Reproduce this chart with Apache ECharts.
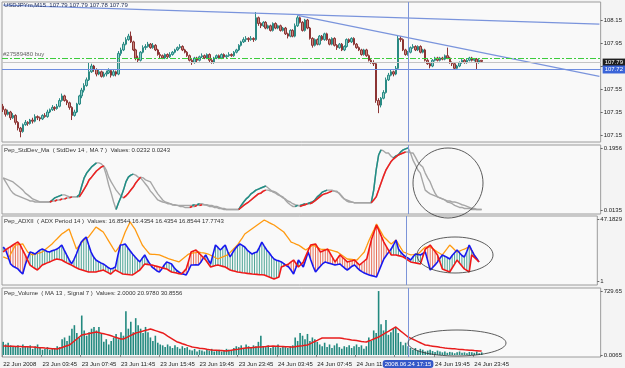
<!DOCTYPE html>
<html><head><meta charset="utf-8">
<script src="https://cdn.jsdelivr.net/npm/echarts@6/dist/echarts.min.js"></script>
<style>html,body{margin:0;padding:0;background:#f4f4f4}#c{width:625px;height:368px}</style>
</head><body><div id="c"></div><script>
// ---- price candles (USDJPYm M15) ----
const opens=[107.40,107.37,107.33,107.35,107.30,107.32,107.26,107.21,107.18,107.24,
107.26,107.25,107.28,107.27,107.31,107.30,107.29,107.32,107.31,107.35,
107.37,107.39,107.38,107.40,107.45,107.49,107.45,107.43,107.39,107.32,
107.35,107.42,107.49,107.54,107.58,107.63,107.70,107.75,107.72,107.68,
107.70,107.66,107.68,107.69,107.71,107.67,107.70,107.68,107.86,107.89,
107.94,107.98,108.01,107.96,107.89,107.82,107.80,107.87,107.91,107.92,
107.94,107.91,107.93,107.89,107.85,107.84,107.82,107.85,107.83,107.85,
107.87,107.89,107.91,107.92,107.89,107.87,107.84,107.80,107.78,107.82,
107.80,107.83,107.84,107.82,107.85,107.80,107.78,107.82,107.84,107.82,
107.85,107.83,107.84,107.85,107.84,107.87,107.89,107.93,107.96,107.98,
107.99,107.98,107.99,107.98,108.17,108.12,108.10,108.13,108.08,108.10,
108.06,108.12,108.08,108.10,108.06,108.08,108.03,108.01,108.06,108.01,
108.10,108.17,108.13,108.06,108.15,108.08,107.99,107.93,107.98,107.94,
108.01,107.98,108.03,107.98,107.94,107.99,107.93,107.91,107.94,107.89,
107.92,107.98,107.96,107.99,107.94,107.91,107.89,107.85,107.89,107.84,
107.80,107.78,107.77,107.45,107.41,107.47,107.52,107.63,107.67,107.70,
107.68,107.73,107.99,107.98,107.89,107.85,107.87,107.91,107.92,107.89,
107.92,107.87,107.89,107.80,107.77,107.75,107.80,107.82,107.80,107.82,
107.81,107.84,107.82,107.78,107.77,107.73,107.75,107.78,107.80,107.78,
107.80,107.82,107.80,107.81,107.78,107.80];
const closes=[107.37,107.33,107.35,107.30,107.32,107.26,107.21,107.18,107.24,107.26,
107.25,107.28,107.27,107.31,107.30,107.29,107.32,107.31,107.35,107.37,
107.39,107.38,107.40,107.45,107.49,107.45,107.43,107.39,107.32,107.35,
107.42,107.49,107.54,107.58,107.63,107.70,107.75,107.72,107.68,107.70,
107.66,107.68,107.69,107.71,107.67,107.70,107.68,107.86,107.89,107.94,
107.98,108.01,107.96,107.89,107.82,107.80,107.87,107.91,107.92,107.94,
107.91,107.93,107.89,107.85,107.84,107.82,107.85,107.83,107.85,107.87,
107.89,107.91,107.92,107.89,107.87,107.84,107.80,107.78,107.82,107.80,
107.83,107.84,107.82,107.85,107.80,107.78,107.82,107.84,107.82,107.85,
107.83,107.84,107.85,107.84,107.87,107.89,107.93,107.96,107.98,107.99,
107.98,107.99,107.98,108.17,108.12,108.10,108.13,108.08,108.10,108.06,
108.12,108.08,108.10,108.06,108.08,108.03,108.01,108.06,108.01,108.10,
108.17,108.13,108.06,108.15,108.08,107.99,107.93,107.98,107.94,108.01,
107.98,108.03,107.98,107.94,107.99,107.93,107.91,107.94,107.89,107.92,
107.98,107.96,107.99,107.94,107.91,107.89,107.85,107.89,107.84,107.80,
107.78,107.77,107.45,107.41,107.47,107.52,107.63,107.67,107.70,107.68,
107.73,107.99,107.98,107.89,107.85,107.87,107.91,107.92,107.89,107.92,
107.87,107.89,107.80,107.77,107.75,107.80,107.82,107.80,107.82,107.81,
107.84,107.82,107.78,107.77,107.73,107.75,107.78,107.80,107.78,107.80,
107.82,107.80,107.81,107.78,107.80,107.79];
const lows=[107.35,107.31,107.32,107.28,107.29,107.24,107.19,107.13,107.17,107.23,
107.23,107.24,107.25,107.26,107.28,107.27,107.28,107.30,107.30,107.34,
107.36,107.36,107.37,107.39,107.44,107.44,107.41,107.37,107.28,107.31,
107.34,107.41,107.47,107.52,107.57,107.62,107.69,107.70,107.66,107.67,
107.65,107.65,107.66,107.68,107.65,107.66,107.66,107.67,107.84,107.88,
107.93,107.97,107.95,107.88,107.80,107.78,107.79,107.86,107.89,107.91,
107.90,107.90,107.88,107.84,107.82,107.81,107.81,107.82,107.82,107.84,
107.86,107.88,107.90,107.88,107.86,107.83,107.79,107.76,107.77,107.78,
107.79,107.82,107.81,107.81,107.78,107.77,107.77,107.81,107.81,107.81,
107.82,107.82,107.83,107.83,107.83,107.86,107.88,107.92,107.95,107.96,
107.96,107.97,107.96,107.97,108.10,108.08,108.09,108.07,108.07,108.05,
108.05,108.07,108.07,108.05,108.05,108.02,107.99,108.00,108.00,108.00,
108.09,108.12,108.05,108.05,108.07,107.98,107.91,107.92,107.93,107.93,
107.97,107.97,107.97,107.93,107.93,107.92,107.89,107.90,107.88,107.88,
107.91,107.95,107.95,107.93,107.90,107.88,107.84,107.84,107.83,107.79,
107.77,107.75,107.43,107.34,107.39,107.46,107.51,107.62,107.66,107.66,
107.67,107.72,107.96,107.88,107.84,107.84,107.86,107.90,107.88,107.88,
107.86,107.86,107.79,107.76,107.73,107.74,107.79,107.79,107.79,107.80,
107.80,107.81,107.77,107.75,107.72,107.72,107.74,107.77,107.77,107.77,
107.79,107.79,107.79,107.72,107.77,107.78];
const highs=[107.42,107.38,107.37,107.36,107.34,107.33,107.27,107.22,107.25,107.28,
107.27,107.29,107.30,107.33,107.32,107.31,107.33,107.34,107.37,107.38,
107.41,107.40,107.42,107.47,107.51,107.50,107.46,107.44,107.40,107.37,
107.43,107.50,107.56,107.60,107.65,107.78,107.77,107.76,107.73,107.72,
107.71,107.70,107.71,107.73,107.72,107.72,107.71,107.88,107.91,107.96,
108.00,108.03,108.05,107.97,107.90,107.84,107.88,107.93,107.94,107.96,
107.95,107.95,107.94,107.90,107.87,107.85,107.86,107.86,107.87,107.88,
107.90,107.92,107.94,107.93,107.90,107.88,107.85,107.81,107.83,107.83,
107.84,107.86,107.85,107.86,107.86,107.81,107.83,107.85,107.85,107.86,
107.86,107.85,107.87,107.86,107.88,107.90,107.94,107.97,108.00,108.01,
108.00,108.01,108.00,108.22,108.18,108.13,108.14,108.14,108.11,108.11,
108.13,108.13,108.11,108.11,108.09,108.09,108.04,108.07,108.07,108.12,
108.19,108.18,108.14,108.16,108.16,108.09,108.00,107.99,107.99,108.02,
108.02,108.04,108.04,107.99,108.00,108.00,107.94,107.95,107.95,107.93,
107.99,107.99,108.00,108.00,107.95,107.92,107.90,107.90,107.90,107.85,
107.81,107.80,107.78,107.47,107.48,107.54,107.65,107.69,107.72,107.71,
107.75,108.02,108.01,107.99,107.90,107.88,107.92,107.94,107.93,107.93,
107.93,107.90,107.90,107.81,107.78,107.81,107.83,107.83,107.83,107.83,
107.85,107.91,107.83,107.79,107.78,107.76,107.79,107.81,107.81,107.81,
107.83,107.83,107.82,107.82,107.81,107.80];
// ---- Pep_StdDev_Ma ----
const stdDev=[.108,.105,.102,.099,.096,.090,.084,.078,.072,.063,
.058,.052,.046,.043,.040,.037,.037,.037,.037,.037,
.043,.049,.052,.055,.058,.058,.055,.052,.052,.052,
.052,.058,.084,.108,.122,.131,.140,.146,.152,.152,
.149,.140,.116,.087,.063,.037,.015,.035,.052,.072,
.096,.110,.116,.119,.116,.110,.108,.099,.090,.081,
.069,.061,.052,.043,.040,.037,.035,.032,.032,.029,
.029,.027,.027,.027,.027,.027,.027,.027,.029,.029,
.032,.032,.029,.027,.024,.024,.021,.021,.018,.018,
.015,.015,.015,.015,.015,.015,.015,.027,.037,.046,
.052,.061,.066,.072,.075,.078,.081,.084,.078,.072,
.066,.063,.058,.055,.052,.043,.035,.029,.024,.024,
.027,.027,.029,.032,.032,.035,.037,.043,.052,.058,
.066,.069,.072,.072,.072,.069,.066,.063,.055,.046,
.040,.037,.037,.035,.035,.035,.035,.035,.035,.035,
.035,.072,.131,.175,.190,.187,.181,.181,.172,.166,
.172,.175,.184,.190,.193,.196,.181,.160,.146,.131,
.122,.096,.072,.066,.061,.058,.055,.052,.049,.046,
.043,.037,.035,.032,.027,.024,.021,.021,.018,.018,
.018,.015,.015,.015,.015,.015];
const stdDevMa=[.108,.096,.084,.072,.063,.058,.055,.052,.049,.046,
.043,.040,.040,.037,.037,.037,.037,.037,.037,.037,
.040,.040,.043,.043,.046,.046,.049,.049,.052,.052,
.052,.052,.063,.075,.087,.102,.110,.119,.128,.134,
.140,.143,.131,.110,.096,.084,.072,.063,.055,.049,
.055,.063,.072,.081,.093,.102,.110,.108,.102,.099,
.096,.084,.072,.061,.052,.043,.037,.035,.032,.029,
.027,.027,.024,.024,.021,.021,.021,.024,.024,.027,
.027,.029,.029,.029,.027,.027,.024,.024,.021,.018,
.018,.015,.015,.015,.015,.015,.015,.021,.027,.032,
.037,.043,.049,.055,.061,.063,.069,.072,.072,.069,
.069,.066,.061,.055,.049,.046,.040,.037,.032,.029,
.027,.024,.027,.029,.032,.032,.035,.040,.046,.052,
.058,.061,.063,.066,.069,.069,.069,.061,.052,.046,
.043,.040,.037,.035,.035,.035,.035,.035,.035,.035,
.035,.043,.052,.072,.093,.113,.131,.143,.155,.163,
.169,.175,.178,.181,.184,.184,.181,.181,.169,.155,
.146,.140,.122,.108,.096,.078,.063,.052,.049,.046,
.043,.040,.040,.037,.037,.035,.032,.029,.027,.024,
.021,.018,.018,.015,.015,.015];
// ---- Pep_ADXII ----
const plusDI=[26.3,24.1,19,13.7,12,11,10.0,8,6.2,12.9,18,22.6,22,21.1,22.5,24,24.8,24,23,22.6,
23.5,24,24.8,26,27.8,24,20.4,17,13.7,17,21.1,26,30.0,32,33.8,28,22.6,19,16.6,15.5,
14.5,13.7,12.5,11,10.0,10.5,11.4,20,27.8,28,28.6,26,23.5,21.1,19,17,15.2,18,20.4,17,
14,11.4,10,8.5,7.7,10,13,15.2,14.5,13.7,11,9,7.7,6.5,6,5.5,9,12.9,12.9,13,
12.9,15,18,20.4,17,13.7,21,27.8,26,24.1,26,27.8,23,18.9,22,24.8,27,28.6,27.5,26.3,
24,22.5,21.1,22,22.6,26,30.0,27,24.1,22,19.5,17.4,16.5,16,15.2,14,12.5,11.4,9,6.2,
11,16.6,14,11.4,17,22.6,17,12,7.7,10,12,14,15.2,14.5,14,13.5,12.9,13.3,13.7,12,
10.5,9.2,10.5,12,12.9,11,9.2,8,7,6.2,5.5,5,4.5,4.0,8.5,13,17.4,20,22.5,24.8,
28,31.5,24.8,22.5,20.4,19,18,16.6,19,21.1,20.8,20.4,21.5,22.6,16,9.2,11,13,15.2,18,
20.4,19.5,18.5,17.4,20,22,24.1,22,20,18.9,23,27.8,24,20.4,18,15.2];
const minusDI=[22.6,24.1,25.5,26.5,27.8,29,30.0,27.8,24,20.4,16.5,12.9,11.5,10.3,9.2,11,12.9,13.7,14.5,15.2,
16,16.8,17.4,17,16.6,15.5,14.5,13.7,12.8,11.8,10.8,10.0,9.4,8.8,8.2,7.7,7.7,7.7,7.7,8.2,
8.7,9.2,8.2,7.2,6.2,7.7,9.2,8.2,7.2,6.2,6,5.8,5.6,5.5,6.7,8,9.2,11.5,13.7,13.4,
13.1,12.9,12.4,11.9,11.4,10.9,10.4,10.0,8.8,7.7,7.3,6.9,6.5,6.2,8,10.0,16,22.6,23.4,24.1,
22.2,20.4,18.5,16.6,14,11.4,12,12.5,12.9,12.4,11.9,11.4,10.3,9.2,8.7,8.2,7.7,7.5,7.2,7,
6.7,6.5,6.2,6,5.9,5.7,5.6,5.5,4.7,4,3.2,2.5,3.2,4.0,11.4,12.2,13,13.7,15.2,16.6,
14,11.4,13.3,15.2,19.5,23.7,27.8,28.2,28.6,25.6,22.6,23.3,24,24.8,21.6,18.4,15.2,17.8,20.4,18.7,
17,15.2,15.7,16.1,16.6,14.7,12.9,14.4,15.9,17.4,25,32.3,37.5,42.7,38.5,34.2,30.0,26.8,23.6,20.4,
20.4,20.4,19.9,19.4,18.9,17.7,16.4,15.2,14.8,14.5,14.1,13.7,19.3,24.8,26.3,27.8,25.3,22.9,20.4,15.2,
10.0,9.2,8.5,7.7,10.7,13.6,16.6,14.4,12.2,10.0,8.9,7.7,20.4,18.7,17,15.2];
const adxLine=[18.9,18.2,17.4,20.9,24.3,27.8,28.1,28.3,28.6,25.6,22.6,21.5,20.4,21,21.5,22,22.6,24.1,25.6,27.1,
28.6,30.5,32.3,34.2,36.0,37.2,38.5,39.7,34.7,29.8,24.8,27,29.2,31.5,32.6,33.8,36.3,38.7,41.2,40,
38.7,37.5,34.5,31.5,28.5,25.5,22.6,25.2,27.8,32.6,37.5,41.2,45.0,42.3,39.7,35.7,31.7,27.8,25.5,23.3,
21.1,20.9,20.8,20.6,20.4,19.7,18.9,18.2,17.4,16.9,16.3,15.8,15.2,16.7,18.2,19.6,21.1,21.5,21.9,22.2,
22.6,22.2,21.9,21.5,21.1,20.2,19.3,18.3,17.4,18.2,18.9,19.7,20.4,22.3,24.1,26,27.8,30.5,33.2,36.0,
37.3,38.6,39.9,41.2,42.5,43.8,45.1,46.4,45.5,44.5,43.6,42.7,41.4,40.1,38.8,37.5,35,32.5,30.0,29.3,
28.5,27.8,26.6,25.3,24.1,25.3,26.6,27.8,26.8,25.8,24.8,24.6,24.5,24.3,24.1,23.6,23.1,22.6,21.3,20,
18.7,17.4,17.2,17,16.8,16.6,18.6,20.6,22.6,27,31.5,35.5,39.4,43.4,40.2,37,33.8,32.1,30.3,28.6,
30,31.5,28.5,25.5,22.6,21.9,21.1,20.4,20.6,20.9,21.1,22.8,24.6,26.3,26.3,26.3,25.1,23.8,22.6,21.5,
20.4,22.9,25.3,27.8,26.1,24.3,22.6,23.3,24.1,24.8,25.6,26.3,23.4,20.4,17.8,15.2];
// ---- Pep_Volume ----
const volume=[150,120,140,110,90,100,110,80,120,100,90,110,70,100,120,
80,60,70,90,60,80,70,100,90,180,200,160,220,300,340,250,200,450,280,
220,260,300,320,280,320,250,150,180,120,160,200,240,180,260,220,500,
300,380,260,420,340,300,250,320,260,200,160,220,140,120,
110,90,120,100,80,110,90,70,100,80,90,
60,50,70,40,60,50,40,60,50,70,40,50,60,40,50,70,60,50,
80,100,90,110,80,120,100,90,110,100,150,220,
100,90,110,80,100,90,120,80,100,90,80,100,110,
200,160,250,220,180,240,160,200,180,
150,120,100,140,90,120,80,110,130,90,70,100,
90,110,80,100,120,90,110,70,100,200,160,280,250,729,350,280,400,
230,260,300,320,250,150,110,140,100,80,
60,80,50,70,60,40,50,60,45,35,50,40,
30,40,25,35,30,20,30,40,25,30,20,35,30,25,40,20,30];
const volumeMa=[103,102,101,100,99,98,97,96,95,94,93,92,91,89,86,84,82,79,77,75,
72,70,68,77,86,96,105,114,137,160,182,205,228,234,239,245,251,256,262,255,
248,242,235,228,219,209,200,191,182,182,196,210,223,237,251,258,266,273,281,288,
296,287,278,269,260,251,234,216,199,182,165,148,139,129,120,110,101,91,87,83,
78,74,70,65,61,57,55,53,51,50,48,46,50,55,59,63,67,72,76,80,
82,84,86,88,90,92,94,96,99,101,103,101,100,98,97,95,94,92,91,95,
99,103,106,110,114,127,141,154,167,181,194,194,194,194,194,194,194,194,190,185,
181,177,172,168,164,160,155,151,148,159,170,182,194,205,221,237,254,270,287,303,
319,296,273,251,228,205,192,179,166,153,140,127,114,110,105,101,97,93,88,84,
80,77,75,72,70,67,64,62,59,57,55,53,50,48,46,45];
// ---- axes ----
const timeLabels=['22 Jun 2008','23 Jun 03:45','23 Jun 07:45','23 Jun 11:45','23 Jun 15:45','23 Jun 19:45','23 Jun 23:45','24 Jun 03:45','24 Jun 07:45','24 Jun 11:45','24 Jun 15:45','24 Jun 19:45','24 Jun 23:45'];
const priceTicks=[107.15,107.35,107.55,107.75,107.95,108.15];
const stdTicks=[0.0135,0.1956];
const adxTicks=[1,47.1829];
const volTicks=[0,729.65];
const volTickText=['0.0065','729.65'];

const NCAT=244;
const cats=[];for(let i=0;i<NCAT;i++)cats.push(String(i));
const FONT='Liberation Sans';
const candleData=opens.map((o,i)=>[o,closes[i],lows[i],highs[i]]);
function risingSegs(a){const out=[];let open=false;for(let i=1;i<a.length;i++){if(a[i]>a[i-1]){if(!open){out.push([i-1,a[i-1]]);open=true;}out.push([i,a[i]]);}else if(open){out.push([i,'-']);open=false;}}return out;}
const hBase=plusDI.map((b,i)=>Math.min(b,minusDI[i]));
const hDiff=plusDI.map((b,i)=>({value:Math.abs(b-minusDI[i]),itemStyle:{color:b>=minusDI[i]?'#4fa596':'#e8705a'}}));
const labelAt=idx=>idx%16===0&&idx/16<timeLabels.length;

const grids=[{top:2,height:140},{top:145,height:69},{top:216,height:69},{top:288,height:69}];
function xa(g){
  const a={type:'category',gridIndex:g,data:cats,boundaryGap:true,axisLine:{show:false},axisTick:{show:false},axisLabel:{show:false},splitLine:{show:false}};
  if(g===3){
    a.axisLabel={show:true,interval:(idx)=>labelAt(idx),align:'left',fontSize:6,fontFamily:FONT,color:'#222',margin:4,
      formatter:(v,idx)=>labelAt(idx)?timeLabels[idx/16]:''};
    a.axisTick={show:true,interval:(idx)=>labelAt(idx),length:2,lineStyle:{color:'#888'}};
    a.axisPointer={show:true,value:165,status:'show',type:'none',triggerTooltip:false,
      label:{show:true,formatter:'2008.06.24 17:15',backgroundColor:'#3558c8',color:'#fff',fontSize:6,fontFamily:FONT,padding:[1,2],margin:3}};
  }
  return a;
}
function ya(g,min,max,ticks,fmt){
  return {type:'value',gridIndex:g,position:'right',min:min,max:max,scale:true,
    axisLine:{show:false},splitLine:{show:false},
    axisTick:{show:true,length:2,customValues:ticks,lineStyle:{color:'#666'}},
    axisLabel:{show:true,customValues:ticks,formatter:fmt,fontSize:6,fontFamily:FONT,color:'#222',margin:3}};
}
const vline={silent:true,symbol:['none','none'],label:{show:false},lineStyle:{color:'#7c94d8',width:1,type:'solid'},data:[{xAxis:165}]};

const option={
  animation:false,
  backgroundColor:'#f4f4f4',
  axisPointer:{triggerOn:'none'},
  grid:grids.map(g=>({left:2,width:600,top:g.top,height:g.height,show:true,backgroundColor:'#f9f9f9',borderColor:'#9c9c9c',borderWidth:1})),
  xAxis:[xa(0),xa(1),xa(2),xa(3)],
  yAxis:[
    ya(0,107.089,108.307,priceTicks,v=>v.toFixed(2)),
    ya(1,0.0018,0.2044,stdTicks,v=>v.toFixed(4)),
    ya(2,-1.985,49.42,adxTicks,v=>v===1?'1':v.toFixed(4)),
    ya(3,-22.8,763.8,volTicks,v=>v===0?volTickText[0]:volTickText[1])
  ],
  series:[
    {type:'candlestick',xAxisIndex:0,yAxisIndex:0,data:candleData,barWidth:2,
      itemStyle:{color:'#8fcfca',color0:'#c88a7e',borderColor:'#2a8a84',borderColor0:'#8c3434',borderWidth:1},
      markLine:{silent:true,symbol:['none','none'],data:[
        [{coord:[0,108.28],lineStyle:{color:'#7a94dc',width:1.2,type:'solid'}},{coord:[243,108.115]}],
        [{coord:[120,108.19],lineStyle:{color:'#7a94dc',width:1.2,type:'solid'}},{coord:[243,107.66]}],
        {yAxis:107.82,lineStyle:{color:'#3ccc3c',width:1,type:[6,2,2,2]},label:{show:true,position:'insideStartTop',formatter:'#27589480 buy',fontSize:6,fontFamily:FONT,color:'#666',distance:1}},
        {yAxis:107.785,lineStyle:{color:'#c4c4c4',width:1,type:'solid'},label:{show:true,position:'end',formatter:'107.79',backgroundColor:'#1e1e1e',color:'#fff',fontSize:6,fontFamily:FONT,padding:[1,2],distance:2}},
        {yAxis:107.72,lineStyle:{color:'#6f8ee0',width:1.2,type:'solid'},label:{show:true,position:'end',formatter:'107.72',backgroundColor:'#3a64d8',color:'#fff',fontSize:6,fontFamily:FONT,padding:[1,2],distance:2}},
        {xAxis:165,lineStyle:{color:'#7c94d8',width:1,type:'solid'},label:{show:false}}
      ]}},
    {type:'line',xAxisIndex:1,yAxisIndex:1,data:stdDev,showSymbol:false,lineStyle:{color:'#a6a6a6',width:1.4},markLine:vline},
    {type:'line',xAxisIndex:1,yAxisIndex:1,data:stdDevMa,showSymbol:false,lineStyle:{color:'#a6a6a6',width:1.4}},
    {type:'line',xAxisIndex:1,yAxisIndex:1,data:risingSegs(stdDev),showSymbol:false,connectNulls:false,lineStyle:{color:'#1f8f86',width:1.5}},
    {type:'line',xAxisIndex:1,yAxisIndex:1,data:risingSegs(stdDevMa),showSymbol:false,connectNulls:false,lineStyle:{color:'#f02020',width:1.5}},
    {type:'bar',xAxisIndex:2,yAxisIndex:2,stack:'h',data:hBase,barWidth:1,itemStyle:{color:'rgba(0,0,0,0)'},markLine:vline},
    {type:'bar',xAxisIndex:2,yAxisIndex:2,stack:'h',data:hDiff,barWidth:1},
    {type:'line',xAxisIndex:2,yAxisIndex:2,data:adxLine,showSymbol:false,lineStyle:{color:'#ff9a10',width:1.3}},
    {type:'line',xAxisIndex:2,yAxisIndex:2,data:plusDI,showSymbol:false,lineStyle:{color:'#1818f0',width:1.6}},
    {type:'line',xAxisIndex:2,yAxisIndex:2,data:minusDI,showSymbol:false,lineStyle:{color:'#f01818',width:1.6}},
    {type:'bar',xAxisIndex:3,yAxisIndex:3,data:volume,barWidth:1.6,itemStyle:{color:'#22897f'},markLine:vline},
    {type:'line',xAxisIndex:3,yAxisIndex:3,data:volumeMa,showSymbol:false,lineStyle:{color:'#e81c1c',width:1.5}}
  ],
  graphic:[
    {type:'text',x:4,y:2,z:50,style:{text:'USDJPYm,M15  107.79 107.79 107.78 107.79',font:'6px "Liberation Sans"',fill:'#1e2c55'}},
    {type:'text',x:4,y:147,z:50,style:{text:'Pep_StdDev_Ma  ( StdDev 14 , MA 7 )  Values: 0.0232 0.0243',font:'6px "Liberation Sans"',fill:'#333'}},
    {type:'text',x:4,y:218,z:50,style:{text:'Pep_ADXII  ( ADX Period 14 )  Values: 16.8544 16.4354 16.4354 16.8544 17.7743',font:'6px "Liberation Sans"',fill:'#333'}},
    {type:'text',x:4,y:290,z:50,style:{text:'Pep_Volume  ( MA 13 , Signal 7 )  Values: 2.0000 20.9780 30.8556',font:'6px "Liberation Sans"',fill:'#333'}},
    {type:'ellipse',z:60,shape:{cx:448,cy:183,rx:35,ry:35},style:{fill:'none',stroke:'#333',lineWidth:0.8}},
    {type:'ellipse',z:60,shape:{cx:455,cy:255,rx:38,ry:18},style:{fill:'none',stroke:'#333',lineWidth:0.8}},
    {type:'ellipse',z:60,shape:{cx:457,cy:343,rx:49,ry:13},style:{fill:'none',stroke:'#333',lineWidth:0.8}}
  ]
};
const chart=echarts.init(document.getElementById('c'),null,{renderer:'canvas'});
chart.setOption(option);
</script></body></html>
